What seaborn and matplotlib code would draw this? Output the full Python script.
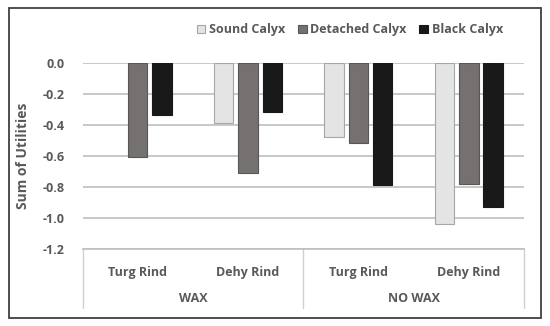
import numpy as np
import pandas as pd
import matplotlib.pyplot as plt
import matplotlib.patches as mpatches
import seaborn as sns

# === Data ===
groups = ["WAX", "WAX", "NO WAX", "NO WAX"]
rinds = ["Turg Rind", "Dehy Rind", "Turg Rind", "Dehy Rind"]
calyx = ["Sound Calyx", "Detached Calyx", "Black Calyx"]
sound = [0.0, -0.39, -0.48, -1.04]
detached = [-0.61, -0.71, -0.52, -0.78]
black = [-0.34, -0.32, -0.79, -0.93]
yticks = [0.0, -0.2, -0.4, -0.6, -0.8, -1.0, -1.2]

# long table for seaborn
keys = [g + "|" + r for g, r in zip(groups, rinds)]
df = pd.DataFrame({
    "cell": keys * 3,
    "calyx": np.repeat(calyx, 4),
    "value": sound + detached + black,
})

sns.set_theme(style="white")
plt.rcParams["font.family"] = ["Open Sans", "DejaVu Sans"]
plt.rcParams["font.weight"] = "bold"
txt = "#595959"
grid = "#bfbfbf"
fs = 9

fig = plt.figure(figsize=(5.5, 3.26), dpi=100)
ax = fig.add_axes([0.15, 0.2362, 0.8027, 0.5715])

pal = {"Sound Calyx": "#e4e4e4", "Detached Calyx": "#767171", "Black Calyx": "#191919"}
sns.barplot(data=df, x="cell", y="value", hue="calyx", order=keys, hue_order=calyx,
            palette=pal, width=0.66, gap=0.2, saturation=1, ax=ax)

edges = {"Sound Calyx": "#a6a6a6", "Detached Calyx": "#5a5656", "Black Calyx": "#191919"}
for cont, name in zip(ax.containers, calyx):
    for b in cont:
        b.set_edgecolor(edges[name])
        b.set_linewidth(0.8 if b.get_height() != 0 else 0)
        b.set_zorder(3)

ax.set_ylim(-1.2, 0)
ax.set_yticks(yticks)
ax.set_yticklabels([f"{v:.1f}" for v in yticks], color=txt, fontsize=fs, fontweight="bold")
ax.yaxis.grid(True, color=grid, linewidth=1.2, zorder=0)
ax.set_axisbelow(True)
ax.tick_params(axis="both", length=0)
ax.tick_params(axis="y", pad=13)
for s in ["top", "left", "right"]:
    ax.spines[s].set_visible(False)
ax.spines["bottom"].set_color(grid)
ax.spines["bottom"].set_linewidth(1.2)

ax.set_xticks(range(4))
ax.set_xticklabels(rinds, color=txt, fontsize=fs, fontweight="bold")
ax.tick_params(axis="x", pad=12)
ax.set_xlabel("")
ax.set_ylabel("Sum of Utilities", color=txt, fontsize=10, fontweight="bold")
ax.yaxis.set_label_coords(-0.119, 0.5)

# group labels and separators
trans = ax.get_xaxis_transform()
for x in [-0.5, 1.5, 3.5]:
    ax.plot([x, x], [0, -0.317], transform=trans, color="#d0d0d0", lw=1, clip_on=False)
ax.text(0.5, -0.268, "WAX", transform=trans, ha="center", va="center",
        color=txt, fontsize=fs, fontweight="bold")
ax.text(2.5, -0.268, "NO WAX", transform=trans, ha="center", va="center",
        color=txt, fontsize=fs, fontweight="bold")
ax.set_xlim(-0.5, 3.5)

# legend
ax.get_legend().remove()
handles = [mpatches.Patch(facecolor=pal[c], edgecolor=edges[c], lw=0.8) for c in calyx]
leg = fig.legend(handles, calyx, loc="center right", bbox_to_anchor=(0.935, 0.908),
                 ncol=3, frameon=False, handlelength=0.7, handleheight=0.7,
                 handletextpad=0.3, columnspacing=1.0,
                 prop={"size": fs, "weight": "bold"})
for t in leg.get_texts():
    t.set_color(txt)

# outer frame
fig.patches.append(mpatches.Rectangle((0.0164, 0.0245), 0.967, 0.951, transform=fig.transFigure,
                                      fill=False, edgecolor="#404040", lw=1.3))

fig.savefig("out.png", dpi=100)
